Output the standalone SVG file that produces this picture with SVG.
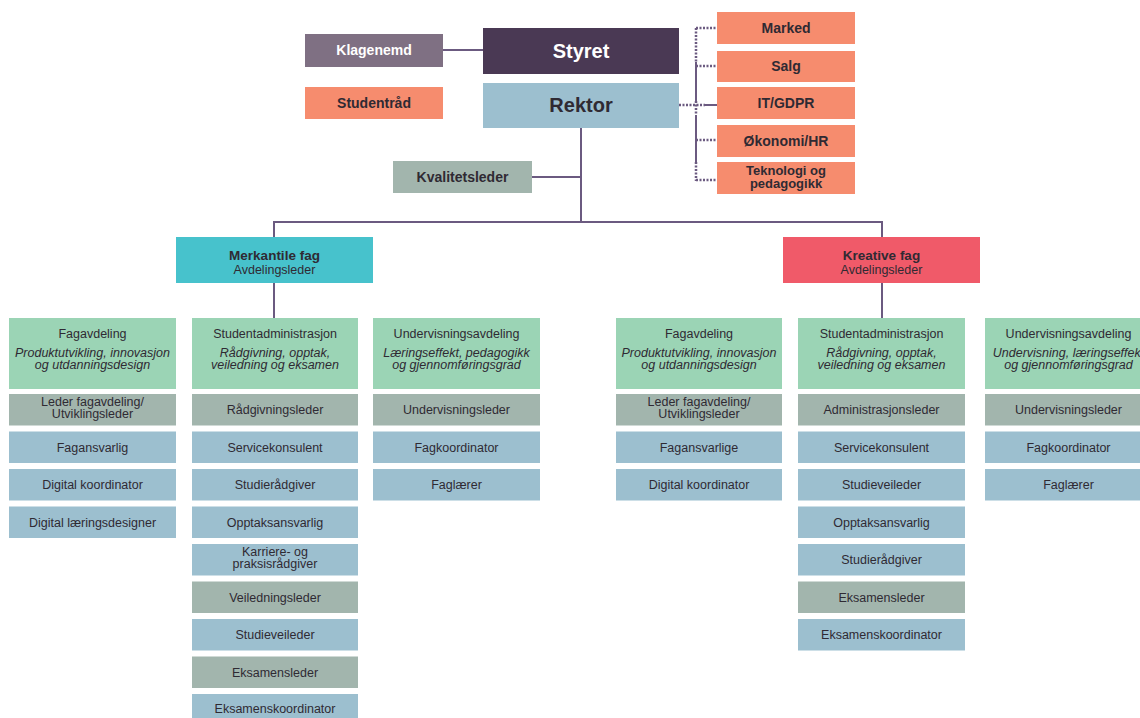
<svg xmlns="http://www.w3.org/2000/svg" width="1140" height="718" viewBox="0 0 1140 718">
<style>
text{font-family:"Liberation Sans",Arial,sans-serif;fill:#2f2a33;text-anchor:middle}
.b{font-weight:bold;font-size:14px}
.b2{font-weight:bold;font-size:13px}
.big{font-weight:bold;font-size:20px}
.w{fill:#ffffff}
.r{font-size:12.5px}
.i{font-size:12.5px;font-style:italic}
.hd{font-weight:bold;font-size:13.5px}
.ln{stroke:#6b5a80;stroke-width:2;fill:none}
.dt{stroke:#6b5a80;stroke-width:2.5;fill:none;stroke-dasharray:2 1.5}
.styret{fill:#4a3954}
.klage{fill:#7f7083}
.or{fill:#f68c6e}
.rek{fill:#9cbfcf}
.gr{fill:#a2b5ad}
.bl{fill:#9cbfcf}
.gn{fill:#9bd4b5}
.teal{fill:#47c2cc}
.red{fill:#f05a69}
</style>
<g id="connectors">
<line class="ln" x1="443" y1="50" x2="483" y2="50"/>
<line class="ln" x1="581" y1="128" x2="581" y2="223"/>
<line class="ln" x1="532" y1="177" x2="581" y2="177"/>
<polyline class="ln" points="274,237 274,222 882,222 882,237"/>
<line class="ln" x1="274" y1="283" x2="274" y2="318"/>
<line class="ln" x1="882" y1="283" x2="882" y2="318"/>
<line class="dt" x1="679" y1="105" x2="705" y2="105"/>
<line class="ln" x1="705" y1="105" x2="717" y2="105"/>
<line class="dt" x1="696" y1="28" x2="696" y2="62"/>
<line class="ln" x1="696" y1="62" x2="696" y2="101"/>
<line class="dt" x1="696" y1="101" x2="696" y2="115"/>
<line class="ln" x1="696" y1="115" x2="696" y2="162"/>
<line class="dt" x1="696" y1="162" x2="696" y2="181"/>
<line class="dt" x1="696" y1="28" x2="717" y2="28"/>
<line class="dt" x1="696" y1="66" x2="717" y2="66"/>
<line class="dt" x1="696" y1="140" x2="717" y2="140"/>
<line class="dt" x1="696" y1="180" x2="717" y2="180"/>
</g>
<g id="klagenemd"><rect class="klage" x="305" y="34" width="138" height="33"/><text class="b w" x="374" y="55">Klagenemd</text></g>
<g id="studentraad"><rect class="or" x="305" y="87" width="138" height="32"/><text class="b" x="374" y="108">Studentråd</text></g>
<g id="styret"><rect class="styret" x="483" y="28" width="196" height="46"/><text class="big w" x="581" y="58">Styret</text></g>
<g id="rektor"><rect class="rek" x="483" y="83" width="196" height="45"/><text class="big" x="581" y="112">Rektor</text></g>
<g id="kvalitetsleder"><rect class="gr" x="393" y="161" width="139" height="32"/><text class="b" x="462.5" y="182">Kvalitetsleder</text></g>
<g id="marked"><rect class="or" x="717" y="12" width="138" height="32"/><text class="b" x="786" y="33">Marked</text></g>
<g id="salg"><rect class="or" x="717" y="51" width="138" height="31"/><text class="b" x="786" y="71">Salg</text></g>
<g id="itgdpr"><rect class="or" x="717" y="87" width="138" height="32"/><text class="b" x="786" y="108">IT/GDPR</text></g>
<g id="okonomi"><rect class="or" x="717" y="125" width="138" height="32"/><text class="b" x="786" y="146">Økonomi/HR</text></g>
<g id="teknologi"><rect class="or" x="717" y="162" width="138" height="32"/><text class="b2" x="786" y="175">Teknologi og</text><text class="b2" x="786" y="188">pedagogikk</text></g>
<g id="merkantile"><rect class="teal" x="176" y="237" width="197" height="46"/><text class="hd" x="274.5" y="260">Merkantile fag</text><text class="r" x="274.5" y="274">Avdelingsleder</text></g>
<g id="kreative"><rect class="red" x="783" y="237" width="197" height="46"/><text class="hd" x="881.5" y="260">Kreative fag</text><text class="r" x="881.5" y="274">Avdelingsleder</text></g>

<g id="c1-head"><rect class="gn" x="9" y="318" width="167" height="71"/><text class="r" x="92.5" y="338">Fagavdeling</text><text class="i" x="92.5" y="357">Produktutvikling, innovasjon</text><text class="i" x="92.5" y="369">og utdanningsdesign</text></g>
<g id="c1-r1"><rect class="gr" x="9" y="394" width="167" height="31.5"/><text class="r" x="92.5" y="406">Leder fagavdeling/</text><text class="r" x="92.5" y="418">Utviklingsleder</text></g>
<g id="c1-r2"><rect class="bl" x="9" y="431.5" width="167" height="31.5"/><text class="r" x="92.5" y="451.5">Fagansvarlig</text></g>
<g id="c1-r3"><rect class="bl" x="9" y="469" width="167" height="31.5"/><text class="r" x="92.5" y="489">Digital koordinator</text></g>
<g id="c1-r4"><rect class="bl" x="9" y="506.5" width="167" height="31.5"/><text class="r" x="92.5" y="526.5">Digital læringsdesigner</text></g>

<g id="c2-head"><rect class="gn" x="192" y="318" width="166" height="71"/><text class="r" x="275" y="338">Studentadministrasjon</text><text class="i" x="275" y="357">Rådgivning, opptak,</text><text class="i" x="275" y="369">veiledning og eksamen</text></g>
<g id="c2-r1"><rect class="gr" x="192" y="394" width="166" height="31.5"/><text class="r" x="275" y="414">Rådgivningsleder</text></g>
<g id="c2-r2"><rect class="bl" x="192" y="431.5" width="166" height="31.5"/><text class="r" x="275" y="451.5">Servicekonsulent</text></g>
<g id="c2-r3"><rect class="bl" x="192" y="469" width="166" height="31.5"/><text class="r" x="275" y="489">Studierådgiver</text></g>
<g id="c2-r4"><rect class="bl" x="192" y="506.5" width="166" height="31.5"/><text class="r" x="275" y="526.5">Opptaksansvarlig</text></g>
<g id="c2-r5"><rect class="bl" x="192" y="544" width="166" height="31.5"/><text class="r" x="275" y="556">Karriere- og</text><text class="r" x="275" y="568">praksisrådgiver</text></g>
<g id="c2-r6"><rect class="gr" x="192" y="581.5" width="166" height="31.5"/><text class="r" x="275" y="601.5">Veiledningsleder</text></g>
<g id="c2-r7"><rect class="bl" x="192" y="619" width="166" height="31.5"/><text class="r" x="275" y="639">Studieveileder</text></g>
<g id="c2-r8"><rect class="gr" x="192" y="656.5" width="166" height="31.5"/><text class="r" x="275" y="676.5">Eksamensleder</text></g>
<g id="c2-r9"><rect class="bl" x="192" y="694" width="166" height="31.5"/><text class="r" x="275" y="713">Eksamenskoordinator</text></g>

<g id="c3-head"><rect class="gn" x="373" y="318" width="167" height="71"/><text class="r" x="456.5" y="338">Undervisningsavdeling</text><text class="i" x="456.5" y="357">Læringseffekt, pedagogikk</text><text class="i" x="456.5" y="369">og gjennomføringsgrad</text></g>
<g id="c3-r1"><rect class="gr" x="373" y="394" width="167" height="31.5"/><text class="r" x="456.5" y="414">Undervisningsleder</text></g>
<g id="c3-r2"><rect class="bl" x="373" y="431.5" width="167" height="31.5"/><text class="r" x="456.5" y="451.5">Fagkoordinator</text></g>
<g id="c3-r3"><rect class="bl" x="373" y="469" width="167" height="31.5"/><text class="r" x="456.5" y="489">Faglærer</text></g>

<g id="c4-head"><rect class="gn" x="616" y="318" width="166" height="71"/><text class="r" x="699" y="338">Fagavdeling</text><text class="i" x="699" y="357">Produktutvikling, innovasjon</text><text class="i" x="699" y="369">og utdanningsdesign</text></g>
<g id="c4-r1"><rect class="gr" x="616" y="394" width="166" height="31.5"/><text class="r" x="699" y="406">Leder fagavdeling/</text><text class="r" x="699" y="418">Utviklingsleder</text></g>
<g id="c4-r2"><rect class="bl" x="616" y="431.5" width="166" height="31.5"/><text class="r" x="699" y="451.5">Fagansvarlige</text></g>
<g id="c4-r3"><rect class="bl" x="616" y="469" width="166" height="31.5"/><text class="r" x="699" y="489">Digital koordinator</text></g>

<g id="c5-head"><rect class="gn" x="798" y="318" width="167" height="71"/><text class="r" x="881.5" y="338">Studentadministrasjon</text><text class="i" x="881.5" y="357">Rådgivning, opptak,</text><text class="i" x="881.5" y="369">veiledning og eksamen</text></g>
<g id="c5-r1"><rect class="gr" x="798" y="394" width="167" height="31.5"/><text class="r" x="881.5" y="414">Administrasjonsleder</text></g>
<g id="c5-r2"><rect class="bl" x="798" y="431.5" width="167" height="31.5"/><text class="r" x="881.5" y="451.5">Servicekonsulent</text></g>
<g id="c5-r3"><rect class="bl" x="798" y="469" width="167" height="31.5"/><text class="r" x="881.5" y="489">Studieveileder</text></g>
<g id="c5-r4"><rect class="bl" x="798" y="506.5" width="167" height="31.5"/><text class="r" x="881.5" y="526.5">Opptaksansvarlig</text></g>
<g id="c5-r5"><rect class="bl" x="798" y="544" width="167" height="31.5"/><text class="r" x="881.5" y="564">Studierådgiver</text></g>
<g id="c5-r6"><rect class="gr" x="798" y="581.5" width="167" height="31.5"/><text class="r" x="881.5" y="601.5">Eksamensleder</text></g>
<g id="c5-r7"><rect class="bl" x="798" y="619" width="167" height="31.5"/><text class="r" x="881.5" y="639">Eksamenskoordinator</text></g>

<g id="c6-head"><rect class="gn" x="985" y="318" width="167" height="71"/><text class="r" x="1068.5" y="338">Undervisningsavdeling</text><text class="i" x="1068.5" y="357">Undervisning, læringseffekt</text><text class="i" x="1068.5" y="369">og gjennomføringsgrad</text></g>
<g id="c6-r1"><rect class="gr" x="985" y="394" width="167" height="31.5"/><text class="r" x="1068.5" y="414">Undervisningsleder</text></g>
<g id="c6-r2"><rect class="bl" x="985" y="431.5" width="167" height="31.5"/><text class="r" x="1068.5" y="451.5">Fagkoordinator</text></g>
<g id="c6-r3"><rect class="bl" x="985" y="469" width="167" height="31.5"/><text class="r" x="1068.5" y="489">Faglærer</text></g>
</svg>
